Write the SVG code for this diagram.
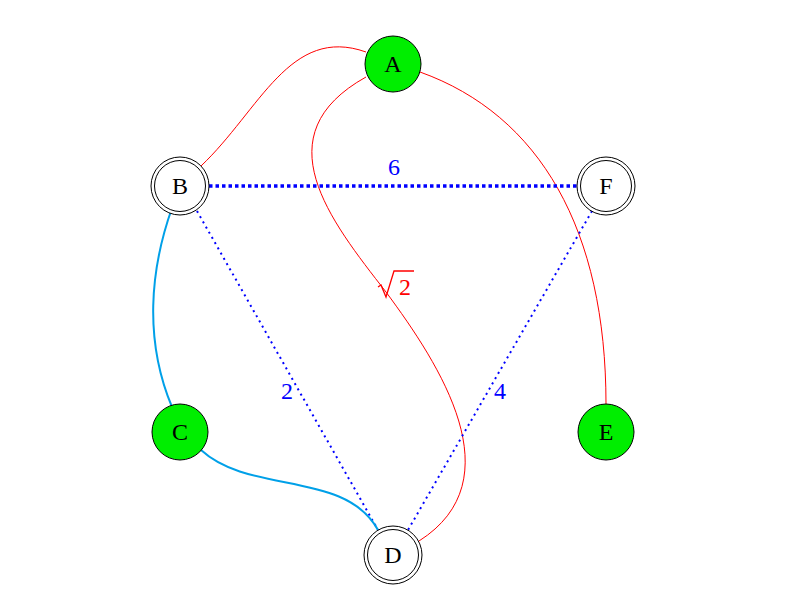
<svg xmlns="http://www.w3.org/2000/svg" width="791" height="609" viewBox="0 0 791 609">
<style>
.red{fill:none;stroke:#ff0000;stroke-width:1}
.cyan{fill:none;stroke:#00a0e8;stroke-width:2}
.dot{fill:none;stroke:#0000ff;stroke-width:2;stroke-dasharray:2 4}
.dotb{fill:none;stroke:#0000ff;stroke-width:3.5;stroke-dasharray:3.5 3}
.green{fill:#00ee00;stroke:#000;stroke-width:1}
.white{fill:#fff;stroke:#000;stroke-width:1}
.lbl{font-family:"Liberation Serif","DejaVu Serif",serif;font-size:24px;text-anchor:middle;fill:#000}
.el{font-family:"Liberation Serif","DejaVu Serif",serif;font-size:24px;text-anchor:middle}
</style>
<rect width="791" height="609" fill="#fff"/>
<g id="connectors">
<path class="red" d="M201,166 C 260,110 290,25 366,52"/>
<path class="red" d="M420,72 C 540,115 606,230 606,404"/>
<path class="red" d="M366,77 C 262,135 330,220 386,292 C 440,365 515,480 419,541"/>
<path class="dotb" d="M209,186 L578,186"/>
<path class="dot" d="M197,211 L378,530"/>
<path class="dot" d="M592,211 L408,530"/>
<path class="cyan" d="M172,208 C 150,270 144,340 172,407"/>
<path class="cyan" d="M201,450 C 250,495 345,470 378,530"/>
<text class="el" x="394" y="175" fill="#0000ff">6</text>
<text class="el" x="287" y="399" fill="#0000ff">2</text>
<text class="el" x="500" y="399" fill="#0000ff">4</text>
<g>
<path d="M378,287 L381,285 L386,297 L394,271 L414,271" fill="none" stroke="#ff0000" stroke-width="1.3"/>
<text class="el" x="405" y="295" fill="#ff0000">2</text>
</g>
</g>
<g id="A"><circle class="green" cx="393" cy="64" r="28"/><text class="lbl" x="393" y="72">A</text></g>
<g id="B"><circle class="white" cx="180" cy="186" r="29"/><circle class="white" cx="180" cy="186" r="25.5"/><text class="lbl" x="180" y="194">B</text></g>
<g id="F"><circle class="white" cx="606" cy="186" r="29"/><circle class="white" cx="606" cy="186" r="25.5"/><text class="lbl" x="606" y="194">F</text></g>
<g id="C"><circle class="green" cx="180" cy="432" r="28"/><text class="lbl" x="180" y="440">C</text></g>
<g id="E"><circle class="green" cx="606" cy="432" r="28"/><text class="lbl" x="606" y="440">E</text></g>
<g id="D"><circle class="white" cx="393" cy="555" r="29"/><circle class="white" cx="393" cy="555" r="25.5"/><text class="lbl" x="393" y="563">D</text></g>
</svg>
